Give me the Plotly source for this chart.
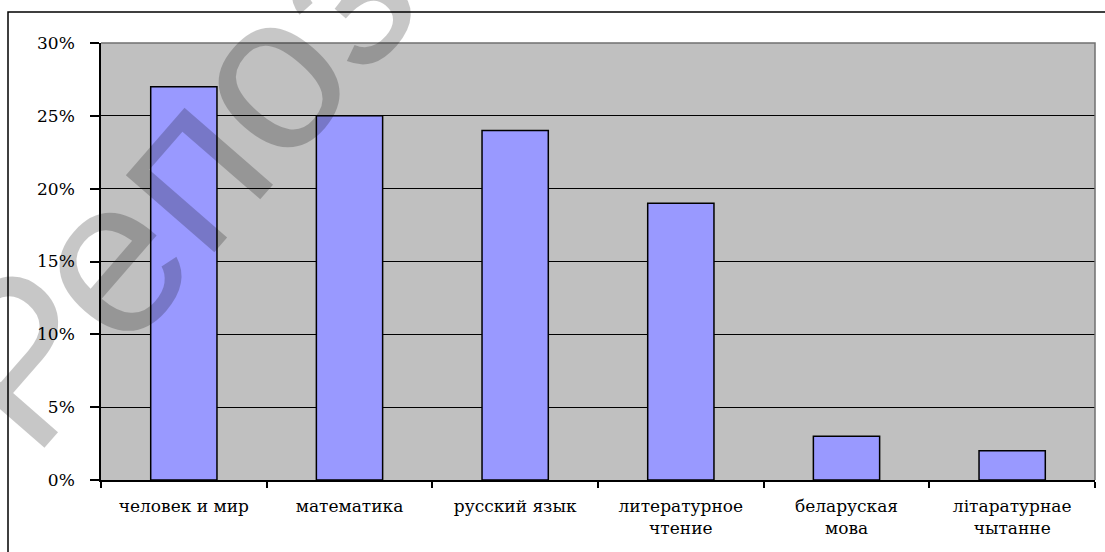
import plotly.graph_objects as go

categories = ["человек и мир", "математика", "русский язык",
              "литературное<br>чтение", "беларуская<br>мова", "літаратурнае<br>чытанне"]
values = [0.27, 0.25, 0.24, 0.19, 0.03, 0.02]
y_ticks = [0, 0.05, 0.10, 0.15, 0.20, 0.25, 0.30]

W, H = 1105, 552
L, R, T, B = 101, 10, 43, 72
pw, ph = W - L - R, H - T - B

SERIF = "DejaVu Serif"

def px(x):
    return (x - L) / pw

def py(y):
    return (H - B - y) / ph

fig = go.Figure()
fig.add_trace(go.Bar(
    x=categories, y=values,
    marker=dict(color="#9999FF", line=dict(color="black", width=1.5)),
    width=0.4, hoverinfo="skip",
))

fig.update_layout(
    width=W, height=H,
    margin=dict(l=L, r=R, t=T, b=B),
    paper_bgcolor="white", plot_bgcolor="#C0C0C0",
    showlegend=False,
    font=dict(family=SERIF, size=17, color="black"),
    xaxis=dict(
        type="category",
        showgrid=False, showline=True, linecolor="black", linewidth=1.5,
        ticks="outside", tickson="boundaries", ticklen=6, tickwidth=1.5, tickcolor="black",
        ticklabelstandoff=10,
        tickfont=dict(family=SERIF, size=17),
    ),
    yaxis=dict(
        range=[0, 0.30], tickvals=y_ticks, tickformat=".0%",
        showgrid=True, gridcolor="black", gridwidth=1.2,
        showline=True, linecolor="black", linewidth=1.5,
        ticks="outside", ticklen=9, tickwidth=1.5, tickcolor="black",
        ticklabelstandoff=12, zeroline=False,
        tickfont=dict(family=SERIF, size=17),
    ),
    shapes=[
        dict(type="rect", xref="paper", yref="paper",
             x0=px(8), x1=1.05, y0=-0.5, y1=py(12),
             line=dict(color="black", width=1.5), fillcolor="rgba(0,0,0,0)"),
        dict(type="path", xref="paper", yref="paper",
             path="M 0,1 L 1,1 L 1,0", line=dict(color="#707070", width=1.5)),
    ],
    annotations=[
        dict(text="Репозиторий", xref="paper", yref="paper",
             x=px(408), y=py(-88), xanchor="center", yanchor="middle",
             showarrow=False, textangle=-49,
             font=dict(family="Liberation Sans, Arial, sans-serif", size=222,
                       color="rgba(0,0,0,0.22)")),
    ],
)

fig.write_html("out.html")
